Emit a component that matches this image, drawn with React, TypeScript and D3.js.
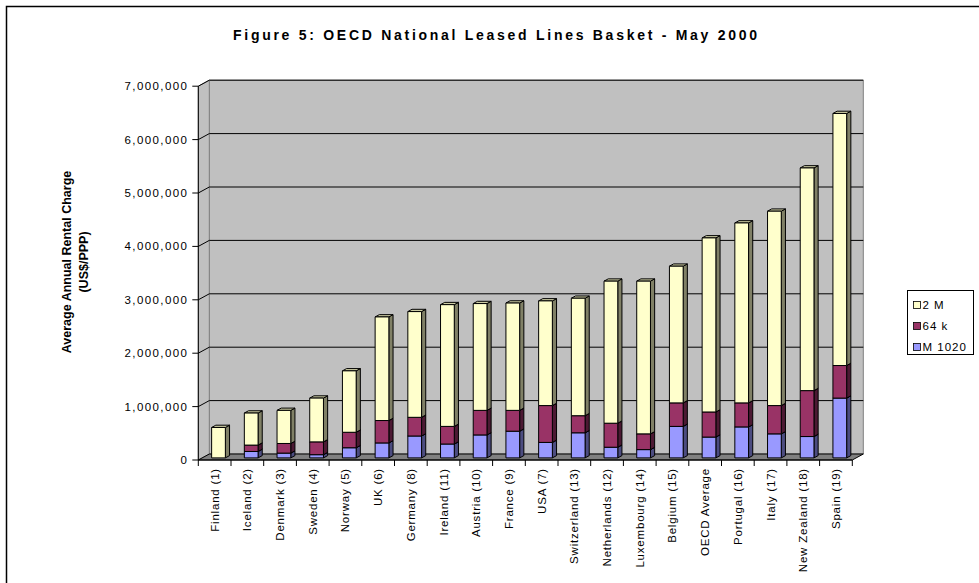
import React, { useRef, useEffect } from "react";
import * as d3 from "d3";

const categories = [
  "Finland (1)", "Iceland (2)", "Denmark (3)", "Sweden (4)", "Norway (5)", "UK (6)",
  "Germany (8)", "Ireland (11)", "Austria (10)", "France (9)", "USA (7)", "Switzerland (13)",
  "Netherlands (12)", "Luxembourg (14)", "Belgium (15)", "OECD Average", "Portugal (16)",
  "Italy (17)", "New Zealand (18)", "Spain (19)",
];

const m1020 = [0, 120000, 90000, 60000, 190000, 280000, 410000, 260000, 430000, 500000,
  290000, 470000, 200000, 155000, 590000, 390000, 580000, 450000, 400000, 1120000];
const k64 = [0, 120000, 180000, 240000, 290000, 420000, 350000, 330000, 460000, 390000,
  690000, 320000, 450000, 295000, 440000, 470000, 450000, 530000, 860000, 610000];
const m2 = [570000, 600000, 620000, 820000, 1150000, 1940000, 1980000, 2280000, 2000000, 2010000,
  1960000, 2200000, 2660000, 2860000, 2560000, 3260000, 3370000, 3640000, 4170000, 4720000];

const yTicks = [0, 1000000, 2000000, 3000000, 4000000, 5000000, 6000000, 7000000];

const seriesKeys = ["m1020", "k64", "m2"];
const legendLabels = ["2 M", "64 k", "M 1020"];

// front / side / top colours per series
const colors = {
  m1020: { front: "#9999FF", side: "#4C4C80", top: "#7A7ACC" },
  k64: { front: "#993366", side: "#4C1933", top: "#7A2952" },
  m2: { front: "#FFFFCC", side: "#808066", top: "#CCCCA3" },
};

const FONT = "'Liberation Sans', Arial, sans-serif";

function App() {
  const svgRef = useRef(null);

  useEffect(() => {
    document.body.style.margin = "0";
    const svg = d3.select(svgRef.current);
    svg.selectAll("*").remove();

    const x0 = 198.3, x1 = 852.3;
    const depth = { dx: 11, dy: -6 };
    const f0 = 0.35, f1 = 0.73; // bar depth fractions

    const xScale = d3.scaleBand().domain(categories).range([x0, x1])
      .paddingInner(0.58).paddingOuter(0.29);
    const step = xScale.step();
    const yScale = d3.scaleLinear().domain([0, 7000000]).range([460, 86.2]);

    const data = categories.map((c, i) => ({ name: c, m1020: m1020[i], k64: k64[i], m2: m2[i] }));
    const stacked = d3.stack().keys(seriesKeys)(data);

    // outer frame
    svg.append("rect").attr("x", 6.5).attr("y", 6.5).attr("width", 990).attr("height", 600)
      .attr("fill", "none").attr("stroke", "#000").attr("stroke-width", 1.5);

    // title
    svg.append("text").attr("x", 495).attr("y", 40)
      .attr("text-anchor", "middle").attr("font-family", FONT).attr("font-weight", "bold")
      .attr("font-size", 14).attr("textLength", 524).attr("lengthAdjust", "spacing")
      .text("Figure 5: OECD National Leased Lines Basket - May 2000");

    const yTop = yScale(7000000), yBot = yScale(0);
    const pts = (arr) => arr.map(p => p.join(",")).join(" ");

    // back wall
    svg.append("polygon")
      .attr("points", pts([[x0 + depth.dx, yTop + depth.dy], [x1 + depth.dx, yTop + depth.dy],
        [x1 + depth.dx, yBot + depth.dy], [x0 + depth.dx, yBot + depth.dy]]))
      .attr("fill", "#C0C0C0").attr("stroke", "#808080").attr("stroke-width", 1);
    // side wall
    svg.append("polygon")
      .attr("points", pts([[x0, yTop], [x0 + depth.dx, yTop + depth.dy],
        [x0 + depth.dx, yBot + depth.dy], [x0, yBot]]))
      .attr("fill", "#C0C0C0").attr("stroke", "#808080").attr("stroke-width", 1);
    // floor
    svg.append("polygon")
      .attr("points", pts([[x0, yBot], [x1, yBot], [x1 + depth.dx, yBot + depth.dy], [x0 + depth.dx, yBot + depth.dy]]))
      .attr("fill", "#808080").attr("stroke", "#000").attr("stroke-width", 1);

    // gridlines
    const grid = svg.append("g").attr("stroke", "#000").attr("stroke-width", 1).attr("fill", "none");
    yTicks.forEach(t => {
      const y = yScale(t);
      if (t > 0) {
        grid.append("path").attr("d", `M${x0},${y}L${x0 + depth.dx},${y + depth.dy}L${x1 + depth.dx},${y + depth.dy}`);
      }
    });

    // bars
    const bars = svg.append("g").attr("stroke", "#000").attr("stroke-width", 1).attr("stroke-linejoin", "round");
    stacked.forEach(series => {
      const col = colors[series.key];
      series.forEach((d, i) => {
        if (d[1] - d[0] <= 0) return;
        const bx = xScale(categories[i]) + f0 * depth.dx;
        const bw = xScale.bandwidth();
        const yb = yScale(d[0]) + f0 * depth.dy;
        const yt = yScale(d[1]) + f0 * depth.dy;
        const ox = (f1 - f0) * depth.dx, oy = (f1 - f0) * depth.dy;
        const g = bars.append("g");
        g.append("polygon").attr("fill", col.side)
          .attr("points", pts([[bx + bw, yt], [bx + bw + ox, yt + oy], [bx + bw + ox, yb + oy], [bx + bw, yb]]));
        g.append("polygon").attr("fill", col.top)
          .attr("points", pts([[bx, yt], [bx + ox, yt + oy], [bx + bw + ox, yt + oy], [bx + bw, yt]]));
        g.append("rect").attr("fill", col.front)
          .attr("x", bx).attr("y", yt).attr("width", bw).attr("height", yb - yt);
      });
    });

    // y axis
    const ax = svg.append("g").attr("stroke", "#000").attr("stroke-width", 1);
    ax.append("line").attr("x1", x0).attr("x2", x0).attr("y1", yTop).attr("y2", yBot);
    yTicks.forEach(t => {
      ax.append("line").attr("x1", x0 - 6).attr("x2", x0).attr("y1", yScale(t)).attr("y2", yScale(t));
    });
    svg.append("g").selectAll("text").data(yTicks).join("text")
      .attr("x", x0 - 10).attr("y", t => yScale(t)).attr("dy", "0.35em")
      .attr("text-anchor", "end").attr("font-family", FONT).attr("font-size", 11.5)
      .attr("letter-spacing", 1.4)
      .text(t => d3.format(",")(t));

    // x axis
    ax.append("line").attr("x1", x0).attr("x2", x1).attr("y1", yBot).attr("y2", yBot);
    d3.range(categories.length + 1).forEach(i => {
      const x = x0 + i * step;
      ax.append("line").attr("x1", x).attr("x2", x).attr("y1", yBot).attr("y2", yBot + 6);
    });
    svg.append("g").selectAll("text").data(categories).join("text")
      .attr("transform", c => `translate(${xScale(c) + xScale.bandwidth() / 2},468) rotate(-90)`)
      .attr("dy", "0.35em").attr("text-anchor", "end")
      .attr("font-family", FONT).attr("font-size", 11.5).attr("letter-spacing", 0.8)
      .text(c => c);

    // y axis title
    const yt = svg.append("g").attr("transform", "translate(0,262)")
      .attr("font-family", FONT).attr("font-weight", "bold").attr("font-size", 12.5).attr("text-anchor", "middle");
    yt.append("text").attr("transform", "translate(71,0) rotate(-90)").text("Average Annual Rental Charge");
    yt.append("text").attr("transform", "translate(88,0) rotate(-90)").text("(US$/PPP)");

    // legend
    const lg = svg.append("g");
    lg.append("rect").attr("x", 907.5).attr("y", 290.5).attr("width", 66).attr("height", 64)
      .attr("fill", "#fff").attr("stroke", "#000");
    const legendKeys = ["m2", "k64", "m1020"];
    legendKeys.forEach((k, i) => {
      const cy = 305 + i * 21;
      lg.append("rect").attr("x", 913.5).attr("y", cy - 3.5).attr("width", 7).attr("height", 7)
        .attr("fill", colors[k].front).attr("stroke", "#000").attr("stroke-width", 0.8);
      lg.append("text").attr("x", 922.5).attr("y", cy).attr("dy", "0.35em")
        .attr("font-family", FONT).attr("font-size", 11.5).attr("letter-spacing", 1)
        .text(legendLabels[i]);
    });
  }, []);

  return (
    <div>
      <svg ref={svgRef} width={979} height={583} style={{ display: "block" }}></svg>
    </div>
  );
}

export default App;
